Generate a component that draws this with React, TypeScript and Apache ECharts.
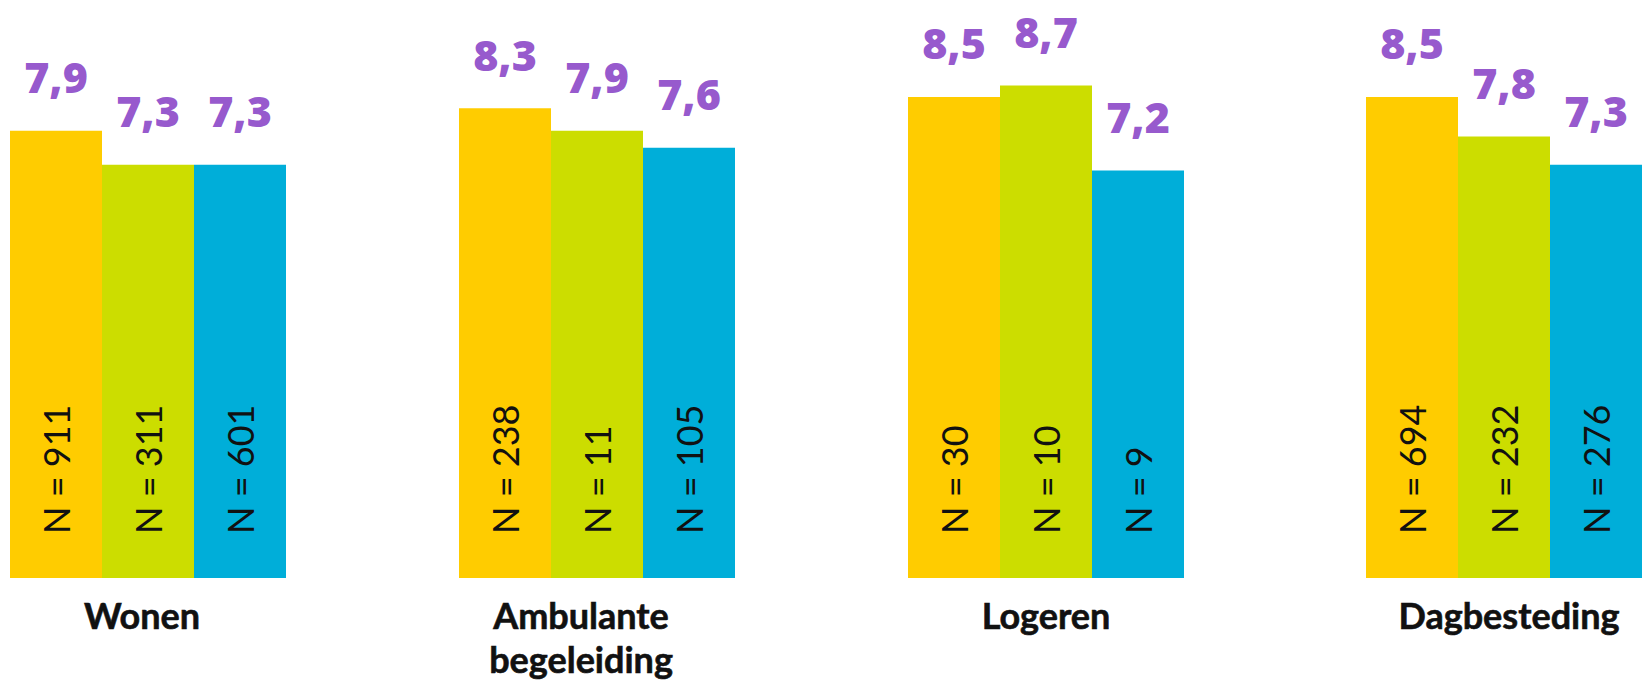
import React, { useEffect, useRef } from "react";
import * as echarts from "echarts";

const groups = ["Wonen", "Ambulante\nbegeleiding", "Logeren", "Dagbesteding"];
const barKeys = ["Groep 1", "Groep 2", "Groep 3"];
const yellowValues = [7.9, 8.3, 8.5, 8.5];
const greenValues = [7.3, 7.9, 8.7, 7.8];
const blueValues = [7.3, 7.6, 7.2, 7.3];
const yellowN = [911, 238, 30, 694];
const greenN = [311, 11, 10, 232];
const blueN = [601, 105, 9, 276];

const colors = ["#FFCC00", "#CCDD00", "#00AED9"];
const purple = "#7A2CC0";
const FONT = "Lato";
const VALUE_FONT = "'Noto Sans', Lato";

// layout
const groupLefts = [10, 459, 908, 1366];
const groupWidth = 276;
const labelShifts = [-6, -16, 0, 5];

export default function App() {
  const ref = useRef<HTMLDivElement>(null);
  useEffect(() => {
    if (!ref.current) return;
    const chart = echarts.init(ref.current, null, { renderer: "svg" });
    const grids: any[] = [];
    const xAxes: any[] = [];
    const yAxes: any[] = [];
    const series: any[] = [];
    groups.forEach((g, i) => {
      grids.push({ left: groupLefts[i], top: 12, width: groupWidth, height: 566 });
      xAxes.push({
        type: "category",
        gridIndex: i,
        data: barKeys,
        show: false,
      });
      const s = labelShifts[i];
      xAxes.push({
        type: "category",
        gridIndex: i,
        data: [g],
        position: "bottom",
        axisLine: { show: false },
        axisTick: { show: false },
        axisLabel: {
          interval: 0,
          margin: 15,
          fontFamily: FONT,
          fontSize: 36,
          fontWeight: "bold",
          color: "#111111",
          textBorderColor: "#111111",
          textBorderWidth: 0.6,
          lineHeight: 44,
          padding: [0, s < 0 ? -2 * s : 0, 0, s > 0 ? 2 * s : 0],
        },
      });
      yAxes.push({ type: "value", gridIndex: i, min: 0, max: 10, show: false });
      const vals = [yellowValues[i], greenValues[i], blueValues[i]];
      const ns = [yellowN[i], greenN[i], blueN[i]];
      series.push({
        type: "bar",
        xAxisIndex: 2 * i,
        yAxisIndex: i,
        barCategoryGap: "0%",
        barGap: "0%",
        data: vals.map((v, k) => ({ value: v, itemStyle: { color: colors[k] } })),
        label: {
          show: true,
          position: "insideBottom",
          distance: 42,
          rotate: 90,
          align: "left",
          verticalAlign: "middle",
          offset: [2, 0],
          fontFamily: FONT,
          fontSize: 36,
          color: "#111111",
          formatter: (p: any) => "N = " + ns[p.dataIndex],
        },
      });
      series.push({
        type: "scatter",
        xAxisIndex: 2 * i,
        yAxisIndex: i,
        symbolSize: 1,
        itemStyle: { color: "transparent" },
        data: vals,
        label: {
          show: true,
          position: "top",
          distance: 32,
          fontFamily: VALUE_FONT,
          fontSize: 43,
          fontWeight: 900,
          color: purple,
          formatter: (p: any) => Number(p.value).toFixed(1).replace(".", ","),
        },
      });
    });
    chart.setOption({
      animation: false,
      backgroundColor: "#ffffff",
      grid: grids,
      xAxis: xAxes,
      yAxis: yAxes,
      series,
    });
    return () => chart.dispose();
  }, []);
  return (
    <div
      ref={ref}
      style={{ position: "absolute", left: 0, top: 0, width: 1644, height: 683 }}
    />
  );
}
